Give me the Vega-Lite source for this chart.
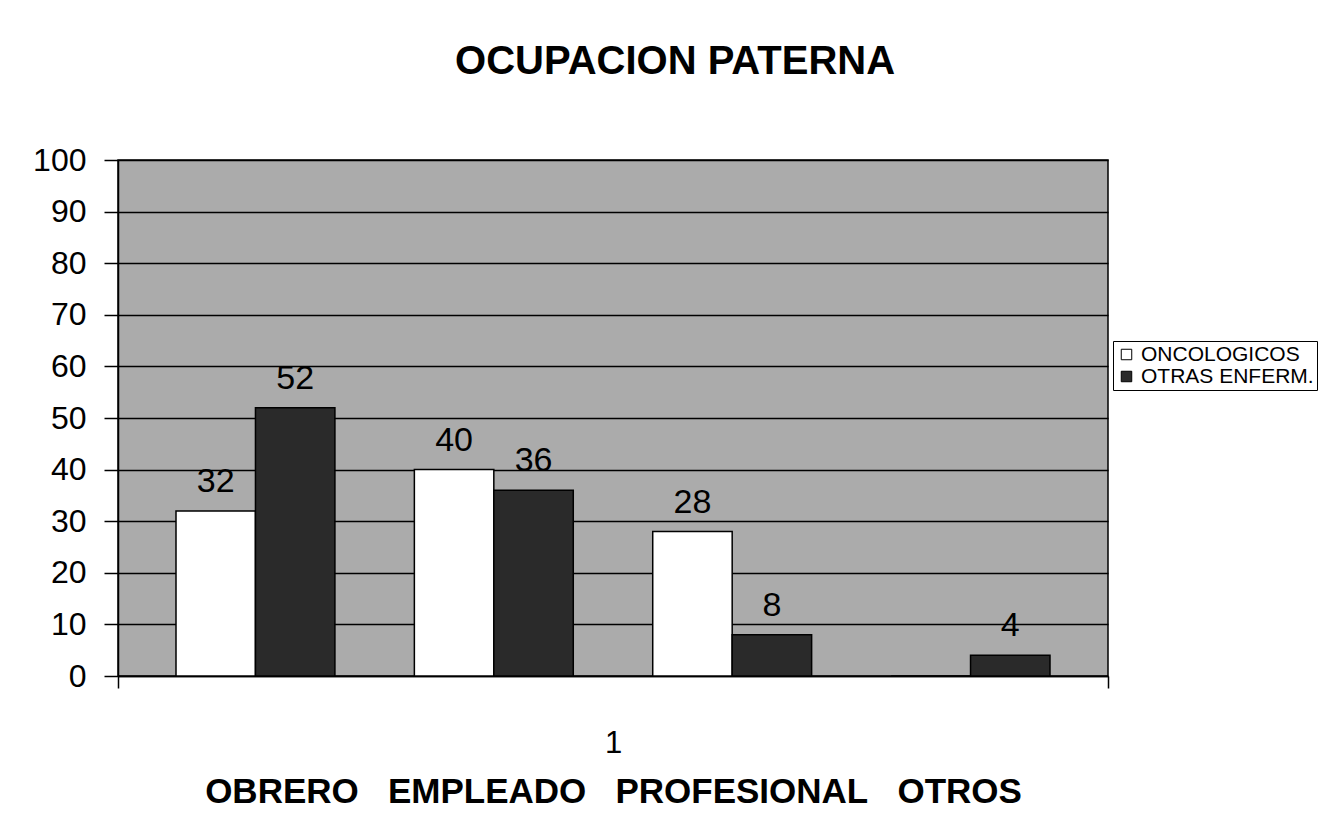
{
  "$schema": "https://vega.github.io/schema/vega-lite/v6.json",
  "width": 990,
  "height": 516,
  "padding": {"left": 32, "top": 42, "right": 3, "bottom": 5},
  "background": "white",
  "title": {"text": "OCUPACION PATERNA", "fontSize": 40, "font": "Liberation Sans", "fontWeight": "bold", "anchor": "middle", "frame": "bounds", "offset": 62, "color": "black"},
  "data": {"values": [
    {"categoria": "1", "grupo": "OBRERO", "serie": "ONCOLOGICOS", "posicion": "OBRERO|ONCOLOGICOS", "valor": 32},
    {"categoria": "1", "grupo": "OBRERO", "serie": "OTRAS ENFERM.", "posicion": "OBRERO|OTRAS ENFERM.", "valor": 52},
    {"categoria": "1", "grupo": "EMPLEADO", "serie": "ONCOLOGICOS", "posicion": "EMPLEADO|ONCOLOGICOS", "valor": 40},
    {"categoria": "1", "grupo": "EMPLEADO", "serie": "OTRAS ENFERM.", "posicion": "EMPLEADO|OTRAS ENFERM.", "valor": 36},
    {"categoria": "1", "grupo": "PROFESIONAL", "serie": "ONCOLOGICOS", "posicion": "PROFESIONAL|ONCOLOGICOS", "valor": 28},
    {"categoria": "1", "grupo": "PROFESIONAL", "serie": "OTRAS ENFERM.", "posicion": "PROFESIONAL|OTRAS ENFERM.", "valor": 8},
    {"categoria": "1", "grupo": "OTROS", "serie": "ONCOLOGICOS", "posicion": "OTROS|ONCOLOGICOS", "valor": 0},
    {"categoria": "1", "grupo": "OTROS", "serie": "OTRAS ENFERM.", "posicion": "OTROS|OTRAS ENFERM.", "valor": 4}
  ]},
  "encoding": {
    "x": {"field": "categoria", "type": "nominal", "scale": {"paddingInner": 0, "paddingOuter": 0},
      "axis": {"title": "OBRERO\u00a0\u00a0 EMPLEADO\u00a0\u00a0 PROFESIONAL\u00a0\u00a0 OTROS", "titleFontSize": 35, "titleFontWeight": "bold", "titleFont": "Liberation Sans", "titleColor": "black", "titlePadding": 16, "labelAngle": 0, "labelFontSize": 31, "labelFont": "Liberation Sans", "labelColor": "black", "labelPadding": 40, "tickBand": "extent", "tickSize": 12, "tickColor": "black", "tickWidth": 1.5, "domainColor": "black", "domainWidth": 1.5, "grid": false}},
    "xOffset": {"field": "posicion", "type": "nominal", "scale": {"domain": ["OBRERO|ONCOLOGICOS", "OBRERO|OTRAS ENFERM.", "g1", "EMPLEADO|ONCOLOGICOS", "EMPLEADO|OTRAS ENFERM.", "g2", "PROFESIONAL|ONCOLOGICOS", "PROFESIONAL|OTRAS ENFERM.", "g3", "OTROS|ONCOLOGICOS", "OTROS|OTRAS ENFERM."], "paddingInner": 0, "paddingOuter": 0.73}},
    "y": {"field": "valor", "type": "quantitative", "scale": {"domain": [0, 100]},
      "axis": {"title": null, "values": [0, 10, 20, 30, 40, 50, 60, 70, 80, 90, 100], "labelFontSize": 32, "labelFont": "Liberation Sans", "labelColor": "black", "labelPadding": 18, "tickSize": 14, "tickColor": "black", "tickWidth": 1.5, "grid": true, "gridColor": "black", "gridWidth": 1.5, "gridOpacity": 1, "domainColor": "black", "domainWidth": 1.5}}
  },
  "layer": [
    {
      "mark": {"type": "bar", "stroke": "black", "strokeWidth": 1.5},
      "encoding": {
        "color": {"field": "serie", "type": "nominal", "scale": {"domain": ["ONCOLOGICOS", "OTRAS ENFERM."], "range": ["#ffffff", "#2a2a2a"]},
          "legend": {"title": null, "orient": "none", "legendX": 995, "legendY": 181, "labelFontSize": 21, "labelFont": "Liberation Sans", "labelColor": "black", "labelLimit": 0, "symbolType": "square", "symbolSize": 110, "symbolStrokeColor": "black", "symbolStrokeWidth": 1, "strokeColor": "black", "fillColor": "white", "padding": 3, "rowPadding": 0, "labelOffset": 4}}
      }
    },
    {
      "transform": [{"filter": "datum.valor > 0"}],
      "mark": {"type": "text", "baseline": "bottom", "dy": -12, "fontSize": 34, "font": "Liberation Sans", "color": "black"},
      "encoding": {"text": {"field": "valor", "type": "quantitative"}}
    }
  ],
  "config": {
    "view": {"fill": "#ababab", "stroke": "black", "strokeWidth": 1.5}
  }
}
